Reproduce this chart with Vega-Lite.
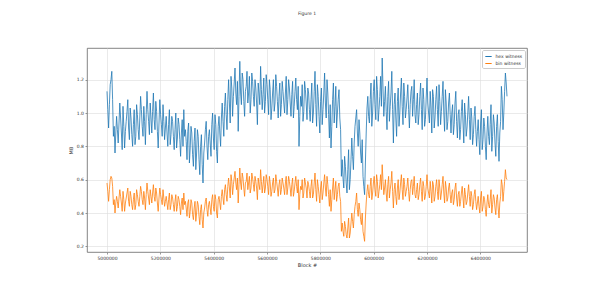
{
  "$schema": "https://vega.github.io/schema/vega-lite/v6.json",
  "width": 440,
  "height": 204,
  "autosize": {"type": "none"},
  "padding": {"left": 87, "top": 48, "right": 73, "bottom": 30},
  "background": "white",
  "title": {"text": "Figure 1", "fontSize": 4.5, "font": "DejaVu Sans", "color": "#333", "fontWeight": "normal", "offset": 33, "anchor": "middle"},
  "data": {"values": [
    {"b":5000000,"h":1.13,"n":0.58},{"b":5006000,"h":0.91,"n":0.47},{"b":5012000,"h":1.17,"n":0.60},{"b":5018000,"h":1.25,"n":0.61},{"b":5024000,"h":0.86,"n":0.45},{"b":5030000,"h":0.76,"n":0.40},{"b":5036000,"h":0.98,"n":0.50},{"b":5042000,"h":0.82,"n":0.43},{"b":5048000,"h":1.06,"n":0.54},{"b":5054000,"h":0.88,"n":0.46},
    {"b":5060000,"h":1.04,"n":0.53},{"b":5066000,"h":0.79,"n":0.41},{"b":5072000,"h":0.95,"n":0.49},{"b":5078000,"h":1.08,"n":0.55},{"b":5084000,"h":0.84,"n":0.44},{"b":5090000,"h":0.97,"n":0.50},{"b":5096000,"h":0.80,"n":0.42},{"b":5102000,"h":1.02,"n":0.52},{"b":5108000,"h":0.86,"n":0.45},{"b":5114000,"h":0.99,"n":0.51},
    {"b":5120000,"h":0.84,"n":0.44},{"b":5126000,"h":1.10,"n":0.56},{"b":5132000,"h":0.92,"n":0.48},{"b":5138000,"h":1.04,"n":0.53},{"b":5144000,"h":0.81,"n":0.42},{"b":5150000,"h":1.13,"n":0.58},{"b":5156000,"h":0.95,"n":0.49},{"b":5162000,"h":1.06,"n":0.54},{"b":5168000,"h":0.88,"n":0.46},{"b":5174000,"h":1.12,"n":0.57},
    {"b":5180000,"h":0.90,"n":0.47},{"b":5186000,"h":1.01,"n":0.52},{"b":5192000,"h":0.79,"n":0.41},{"b":5198000,"h":1.08,"n":0.55},{"b":5204000,"h":0.93,"n":0.48},{"b":5210000,"h":1.05,"n":0.54},{"b":5216000,"h":0.84,"n":0.44},{"b":5222000,"h":0.98,"n":0.50},{"b":5228000,"h":0.80,"n":0.42},{"b":5234000,"h":1.02,"n":0.52},
    {"b":5240000,"h":0.87,"n":0.45},{"b":5246000,"h":0.95,"n":0.49},{"b":5252000,"h":0.78,"n":0.41},{"b":5258000,"h":1.00,"n":0.51},{"b":5264000,"h":0.85,"n":0.44},{"b":5270000,"h":0.93,"n":0.48},{"b":5276000,"h":0.74,"n":0.39},{"b":5282000,"h":0.96,"n":0.49},{"b":5288000,"h":1.02,"n":0.52},{"b":5294000,"h":0.90,"n":0.47},
    {"b":5300000,"h":0.72,"n":0.38},{"b":5306000,"h":0.94,"n":0.48},{"b":5312000,"h":0.79,"n":0.41},{"b":5318000,"h":0.88,"n":0.46},{"b":5324000,"h":0.68,"n":0.36},{"b":5330000,"h":0.91,"n":0.47},{"b":5336000,"h":0.76,"n":0.40},{"b":5342000,"h":0.86,"n":0.45},{"b":5348000,"h":0.63,"n":0.33},{"b":5354000,"h":0.87,"n":0.45},
    {"b":5360000,"h":0.58,"n":0.31},{"b":5366000,"h":0.82,"n":0.43},{"b":5372000,"h":0.95,"n":0.49},{"b":5378000,"h":0.72,"n":0.38},{"b":5384000,"h":0.90,"n":0.47},{"b":5390000,"h":0.74,"n":0.39},{"b":5396000,"h":1.00,"n":0.51},{"b":5402000,"h":0.78,"n":0.41},{"b":5408000,"h":0.93,"n":0.48},{"b":5414000,"h":0.70,"n":0.37},
    {"b":5420000,"h":0.98,"n":0.50},{"b":5426000,"h":0.80,"n":0.42},{"b":5432000,"h":1.06,"n":0.54},{"b":5438000,"h":0.86,"n":0.45},{"b":5444000,"h":1.12,"n":0.57},{"b":5450000,"h":0.90,"n":0.47},{"b":5456000,"h":1.20,"n":0.61},{"b":5462000,"h":0.94,"n":0.49},{"b":5468000,"h":1.15,"n":0.59},{"b":5474000,"h":1.10,"n":0.57},
    {"b":5480000,"h":1.27,"n":0.65},{"b":5486000,"h":1.05,"n":0.54},{"b":5492000,"h":0.89,"n":0.46},{"b":5498000,"h":1.31,"n":0.67},{"b":5504000,"h":1.05,"n":0.54},{"b":5510000,"h":1.20,"n":0.61},{"b":5516000,"h":0.98,"n":0.50},{"b":5522000,"h":1.16,"n":0.59},{"b":5528000,"h":1.06,"n":0.54},{"b":5534000,"h":1.22,"n":0.62},
    {"b":5540000,"h":1.08,"n":0.55},{"b":5546000,"h":1.19,"n":0.61},{"b":5552000,"h":1.04,"n":0.53},{"b":5558000,"h":1.15,"n":0.59},{"b":5564000,"h":0.93,"n":0.48},{"b":5570000,"h":1.12,"n":0.57},{"b":5576000,"h":1.28,"n":0.66},{"b":5582000,"h":1.02,"n":0.52},{"b":5588000,"h":1.21,"n":0.62},{"b":5594000,"h":1.07,"n":0.55},
    {"b":5600000,"h":1.17,"n":0.60},{"b":5606000,"h":0.99,"n":0.51},{"b":5612000,"h":1.14,"n":0.58},{"b":5618000,"h":1.03,"n":0.53},{"b":5624000,"h":1.20,"n":0.61},{"b":5630000,"h":1.06,"n":0.54},{"b":5636000,"h":1.16,"n":0.59},{"b":5642000,"h":0.97,"n":0.50},{"b":5648000,"h":1.18,"n":0.60},{"b":5654000,"h":1.05,"n":0.54},
    {"b":5660000,"h":1.13,"n":0.58},{"b":5666000,"h":1.00,"n":0.51},{"b":5672000,"h":1.22,"n":0.62},{"b":5678000,"h":1.08,"n":0.55},{"b":5684000,"h":1.15,"n":0.59},{"b":5690000,"h":0.98,"n":0.50},{"b":5696000,"h":1.19,"n":0.61},{"b":5702000,"h":1.04,"n":0.53},{"b":5708000,"h":1.21,"n":0.62},{"b":5714000,"h":1.02,"n":0.52},
    {"b":5720000,"h":0.80,"n":0.42},{"b":5726000,"h":1.10,"n":0.56},{"b":5732000,"h":1.17,"n":0.60},{"b":5738000,"h":1.01,"n":0.52},{"b":5744000,"h":1.14,"n":0.58},{"b":5750000,"h":0.96,"n":0.49},{"b":5756000,"h":1.12,"n":0.57},{"b":5762000,"h":0.95,"n":0.49},{"b":5768000,"h":1.18,"n":0.60},{"b":5774000,"h":1.00,"n":0.51},
    {"b":5780000,"h":1.25,"n":0.64},{"b":5786000,"h":0.92,"n":0.47},{"b":5792000,"h":1.10,"n":0.56},{"b":5798000,"h":0.88,"n":0.46},{"b":5804000,"h":1.15,"n":0.59},{"b":5810000,"h":1.02,"n":0.52},{"b":5816000,"h":1.24,"n":0.63},{"b":5822000,"h":0.97,"n":0.50},{"b":5828000,"h":1.12,"n":0.57},{"b":5834000,"h":0.85,"n":0.44},
    {"b":5840000,"h":0.79,"n":0.41},{"b":5846000,"h":1.08,"n":0.55},{"b":5852000,"h":0.94,"n":0.48},{"b":5858000,"h":1.16,"n":0.59},{"b":5864000,"h":1.00,"n":0.51},{"b":5870000,"h":1.14,"n":0.58},{"b":5876000,"h":0.90,"n":0.47},{"b":5882000,"h":0.72,"n":0.34},{"b":5888000,"h":0.55,"n":0.26},{"b":5894000,"h":0.68,"n":0.32},
    {"b":5900000,"h":0.52,"n":0.25},{"b":5906000,"h":0.78,"n":0.37},{"b":5912000,"h":0.60,"n":0.28},{"b":5918000,"h":0.85,"n":0.40},{"b":5924000,"h":0.66,"n":0.31},{"b":5930000,"h":0.92,"n":0.44},{"b":5936000,"h":1.02,"n":0.52},{"b":5942000,"h":0.80,"n":0.38},{"b":5948000,"h":0.88,"n":0.42},{"b":5954000,"h":0.70,"n":0.33},
    {"b":5960000,"h":0.62,"n":0.29},{"b":5966000,"h":0.51,"n":0.23},{"b":5972000,"h":0.88,"n":0.46},{"b":5978000,"h":1.10,"n":0.57},{"b":5984000,"h":0.94,"n":0.49},{"b":5990000,"h":1.18,"n":0.61},{"b":5996000,"h":1.00,"n":0.52},{"b":6002000,"h":1.20,"n":0.62},{"b":6008000,"h":0.96,"n":0.50},{"b":6014000,"h":1.14,"n":0.59},
    {"b":6020000,"h":1.02,"n":0.53},{"b":6026000,"h":1.22,"n":0.63},{"b":6032000,"h":1.33,"n":0.69},{"b":6038000,"h":0.98,"n":0.51},{"b":6044000,"h":1.16,"n":0.60},{"b":6050000,"h":0.90,"n":0.47},{"b":6056000,"h":1.19,"n":0.62},{"b":6062000,"h":1.04,"n":0.54},{"b":6068000,"h":1.25,"n":0.65},{"b":6074000,"h":0.82,"n":0.43},
    {"b":6080000,"h":1.12,"n":0.58},{"b":6086000,"h":0.86,"n":0.45},{"b":6092000,"h":1.15,"n":0.60},{"b":6098000,"h":1.00,"n":0.52},{"b":6104000,"h":1.21,"n":0.63},{"b":6110000,"h":0.93,"n":0.48},{"b":6116000,"h":1.10,"n":0.57},{"b":6122000,"h":1.02,"n":0.53},{"b":6128000,"h":1.17,"n":0.61},{"b":6134000,"h":0.91,"n":0.47},
    {"b":6140000,"h":1.13,"n":0.59},{"b":6146000,"h":0.98,"n":0.51},{"b":6152000,"h":1.20,"n":0.62},{"b":6158000,"h":0.94,"n":0.49},{"b":6164000,"h":1.12,"n":0.58},{"b":6170000,"h":0.99,"n":0.51},{"b":6176000,"h":1.18,"n":0.61},{"b":6182000,"h":0.90,"n":0.47},{"b":6188000,"h":1.08,"n":0.56},{"b":6194000,"h":0.96,"n":0.50},
    {"b":6200000,"h":1.21,"n":0.63},{"b":6206000,"h":1.00,"n":0.52},{"b":6212000,"h":1.13,"n":0.59},{"b":6218000,"h":0.88,"n":0.46},{"b":6224000,"h":1.10,"n":0.57},{"b":6230000,"h":0.97,"n":0.50},{"b":6236000,"h":1.16,"n":0.60},{"b":6242000,"h":0.92,"n":0.48},{"b":6248000,"h":1.07,"n":0.55},{"b":6254000,"h":1.01,"n":0.52},
    {"b":6260000,"h":1.19,"n":0.62},{"b":6266000,"h":0.89,"n":0.46},{"b":6272000,"h":1.06,"n":0.55},{"b":6278000,"h":0.95,"n":0.49},{"b":6284000,"h":1.12,"n":0.58},{"b":6290000,"h":0.88,"n":0.46},{"b":6296000,"h":1.05,"n":0.54},{"b":6302000,"h":0.93,"n":0.48},{"b":6308000,"h":1.13,"n":0.58},{"b":6314000,"h":0.85,"n":0.44},
    {"b":6320000,"h":1.02,"n":0.53},{"b":6326000,"h":0.90,"n":0.47},{"b":6332000,"h":1.08,"n":0.56},{"b":6338000,"h":0.82,"n":0.43},{"b":6344000,"h":0.99,"n":0.51},{"b":6350000,"h":0.91,"n":0.47},{"b":6356000,"h":1.10,"n":0.57},{"b":6362000,"h":0.84,"n":0.44},{"b":6368000,"h":0.97,"n":0.50},{"b":6374000,"h":0.87,"n":0.45},
    {"b":6380000,"h":1.04,"n":0.54},{"b":6386000,"h":0.80,"n":0.42},{"b":6392000,"h":0.96,"n":0.50},{"b":6398000,"h":0.75,"n":0.40},{"b":6404000,"h":1.02,"n":0.53},{"b":6410000,"h":0.84,"n":0.44},{"b":6416000,"h":0.92,"n":0.48},{"b":6422000,"h":0.72,"n":0.38},{"b":6428000,"h":0.98,"n":0.51},{"b":6434000,"h":0.81,"n":0.43},
    {"b":6440000,"h":1.05,"n":0.54},{"b":6446000,"h":0.86,"n":0.45},{"b":6452000,"h":0.94,"n":0.49},{"b":6458000,"h":0.74,"n":0.39},{"b":6464000,"h":0.99,"n":0.51},{"b":6470000,"h":0.71,"n":0.37},{"b":6476000,"h":0.95,"n":0.50},{"b":6482000,"h":1.08,"n":0.57},{"b":6488000,"h":1.00,"n":0.53},{"b":6494000,"h":1.24,"n":0.66},
    {"b":6500000,"h":1.10,"n":0.60},
    {"b":5003000,"h":1.02,"n":0.53},{"b":5009000,"h":1.05,"n":0.54},{"b":5015000,"h":1.20,"n":0.62},{"b":5021000,"h":1.08,"n":0.56},{"b":5027000,"h":0.92,"n":0.48},{"b":5033000,"h":0.88,"n":0.46},{"b":5039000,"h":0.90,"n":0.47},{"b":5045000,"h":0.94,"n":0.49},{"b":5051000,"h":0.97,"n":0.50},{"b":5057000,"h":0.78,"n":0.41},
    {"b":5063000,"h":0.92,"n":0.48},{"b":5069000,"h":0.89,"n":0.46},{"b":5075000,"h":1.01,"n":0.52},{"b":5081000,"h":0.91,"n":0.47},{"b":5087000,"h":1.03,"n":0.53},{"b":5093000,"h":0.87,"n":0.45},{"b":5099000,"h":0.93,"n":0.48},{"b":5105000,"h":0.81,"n":0.42},{"b":5111000,"h":1.05,"n":0.54},{"b":5117000,"h":0.90,"n":0.47},
    {"b":5123000,"h":0.97,"n":0.50},{"b":5129000,"h":1.02,"n":0.53},{"b":5135000,"h":0.86,"n":0.45},{"b":5141000,"h":0.95,"n":0.49},{"b":5147000,"h":0.99,"n":0.51},{"b":5153000,"h":1.02,"n":0.53},{"b":5159000,"h":0.87,"n":0.45},{"b":5165000,"h":0.97,"n":0.50},{"b":5171000,"h":1.01,"n":0.52},{"b":5177000,"h":0.96,"n":0.50},
    {"b":5183000,"h":1.07,"n":0.55},{"b":5189000,"h":0.89,"n":0.46},{"b":5195000,"h":0.94,"n":0.49},{"b":5201000,"h":0.99,"n":0.51},{"b":5207000,"h":0.86,"n":0.45},{"b":5213000,"h":0.95,"n":0.49},{"b":5219000,"h":0.91,"n":0.47},{"b":5225000,"h":0.88,"n":0.46},{"b":5231000,"h":0.93,"n":0.48},{"b":5237000,"h":0.81,"n":0.42},
    {"b":5243000,"h":0.98,"n":0.51},{"b":5249000,"h":0.86,"n":0.45},{"b":5255000,"h":0.90,"n":0.47},{"b":5261000,"h":0.79,"n":0.41},{"b":5267000,"h":0.97,"n":0.50},{"b":5273000,"h":0.84,"n":0.44},{"b":5279000,"h":0.88,"n":0.46},{"b":5285000,"h":0.80,"n":0.42},{"b":5291000,"h":0.86,"n":0.45},{"b":5297000,"h":0.83,"n":0.43},
    {"b":5303000,"h":0.89,"n":0.46},{"b":5309000,"h":0.70,"n":0.37},{"b":5315000,"h":0.92,"n":0.48},{"b":5321000,"h":0.75,"n":0.39},{"b":5327000,"h":0.83,"n":0.43},{"b":5333000,"h":0.66,"n":0.35},{"b":5339000,"h":0.90,"n":0.47},{"b":5345000,"h":0.72,"n":0.38},{"b":5351000,"h":0.80,"n":0.42},{"b":5357000,"h":0.69,"n":0.36},
    {"b":5363000,"h":0.76,"n":0.40},{"b":5369000,"h":0.90,"n":0.47},{"b":5375000,"h":0.80,"n":0.42},{"b":5381000,"h":0.86,"n":0.45},{"b":5387000,"h":0.82,"n":0.43},{"b":5393000,"h":0.93,"n":0.48},{"b":5399000,"h":0.85,"n":0.44},{"b":5405000,"h":0.99,"n":0.51},{"b":5411000,"h":0.77,"n":0.40},{"b":5417000,"h":0.92,"n":0.48},
    {"b":5423000,"h":0.88,"n":0.46},{"b":5429000,"h":0.97,"n":0.50},{"b":5435000,"h":0.95,"n":0.49},{"b":5441000,"h":1.04,"n":0.54},{"b":5447000,"h":0.99,"n":0.51},{"b":5453000,"h":1.08,"n":0.56},{"b":5459000,"h":1.06,"n":0.55},{"b":5465000,"h":1.22,"n":0.63},{"b":5471000,"h":0.98,"n":0.51},{"b":5477000,"h":1.18,"n":0.61},
    {"b":5483000,"h":1.12,"n":0.58},{"b":5489000,"h":1.19,"n":0.61},{"b":5495000,"h":1.10,"n":0.57},{"b":5501000,"h":1.12,"n":0.58},{"b":5507000,"h":1.24,"n":0.64},{"b":5513000,"h":1.07,"n":0.55},{"b":5519000,"h":1.13,"n":0.58},{"b":5525000,"h":1.25,"n":0.64},{"b":5531000,"h":1.12,"n":0.58},{"b":5537000,"h":1.00,"n":0.52},
    {"b":5543000,"h":1.24,"n":0.64},{"b":5549000,"h":1.10,"n":0.57},{"b":5555000,"h":1.20,"n":0.62},{"b":5561000,"h":1.06,"n":0.55},{"b":5567000,"h":1.18,"n":0.61},{"b":5573000,"h":1.05,"n":0.54},{"b":5579000,"h":1.14,"n":0.59},{"b":5585000,"h":1.11,"n":0.57},{"b":5591000,"h":1.00,"n":0.52},{"b":5597000,"h":1.23,"n":0.63},
    {"b":5603000,"h":1.08,"n":0.56},{"b":5609000,"h":1.20,"n":0.62},{"b":5615000,"h":0.96,"n":0.50},{"b":5621000,"h":1.12,"n":0.58},{"b":5627000,"h":1.01,"n":0.52},{"b":5633000,"h":1.23,"n":0.63},{"b":5639000,"h":1.07,"n":0.55},{"b":5645000,"h":1.10,"n":0.57},{"b":5651000,"h":0.98,"n":0.51},{"b":5657000,"h":1.19,"n":0.61},
    {"b":5663000,"h":1.06,"n":0.55},{"b":5669000,"h":1.12,"n":0.58},{"b":5675000,"h":0.99,"n":0.51},{"b":5681000,"h":1.20,"n":0.62},{"b":5687000,"h":1.06,"n":0.55},{"b":5693000,"h":1.11,"n":0.57},{"b":5699000,"h":0.97,"n":0.50},{"b":5705000,"h":1.13,"n":0.58},{"b":5711000,"h":1.08,"n":0.56},{"b":5717000,"h":1.16,"n":0.60},
    {"b":5723000,"h":0.98,"n":0.51},{"b":5729000,"h":1.04,"n":0.54},{"b":5735000,"h":0.95,"n":0.49},{"b":5741000,"h":1.19,"n":0.61},{"b":5747000,"h":1.06,"n":0.55},{"b":5753000,"h":1.15,"n":0.59},{"b":5759000,"h":1.02,"n":0.53},{"b":5765000,"h":1.08,"n":0.56},{"b":5771000,"h":0.94,"n":0.49},{"b":5777000,"h":1.13,"n":0.58},
    {"b":5783000,"h":1.05,"n":0.54},{"b":5789000,"h":1.17,"n":0.60},{"b":5795000,"h":0.98,"n":0.51},{"b":5801000,"h":1.07,"n":0.55},{"b":5807000,"h":0.93,"n":0.48},{"b":5813000,"h":1.12,"n":0.58},{"b":5819000,"h":1.06,"n":0.55},{"b":5825000,"h":1.20,"n":0.62},{"b":5831000,"h":0.99,"n":0.51},{"b":5837000,"h":1.05,"n":0.54},
    {"b":5843000,"h":0.92,"n":0.48},{"b":5849000,"h":1.18,"n":0.61},{"b":5855000,"h":1.04,"n":0.54},{"b":5861000,"h":0.91,"n":0.47},{"b":5867000,"h":1.08,"n":0.56},{"b":5873000,"h":0.97,"n":0.50},{"b":5879000,"h":0.62,"n":0.29},{"b":5885000,"h":0.61,"n":0.29},{"b":5891000,"h":0.74,"n":0.35},{"b":5897000,"h":0.58,"n":0.27},
    {"b":5903000,"h":0.66,"n":0.31},{"b":5909000,"h":0.54,"n":0.25},{"b":5915000,"h":0.72,"n":0.34},{"b":5921000,"h":0.74,"n":0.35},{"b":5927000,"h":0.82,"n":0.39},{"b":5933000,"h":0.97,"n":0.47},{"b":5939000,"h":0.88,"n":0.42},{"b":5945000,"h":0.96,"n":0.46},{"b":5951000,"h":0.76,"n":0.36},{"b":5957000,"h":0.84,"n":0.40},
    {"b":5963000,"h":0.56,"n":0.26},{"b":5969000,"h":0.70,"n":0.37},{"b":5975000,"h":1.03,"n":0.53},{"b":5981000,"h":0.98,"n":0.51},{"b":5987000,"h":1.08,"n":0.56},{"b":5993000,"h":0.92,"n":0.48},{"b":5999000,"h":1.13,"n":0.58},{"b":6005000,"h":1.05,"n":0.54},{"b":6011000,"h":1.22,"n":0.63},{"b":6017000,"h":0.95,"n":0.49},
    {"b":6023000,"h":1.10,"n":0.57},{"b":6029000,"h":1.04,"n":0.54},{"b":6035000,"h":1.15,"n":0.59},{"b":6041000,"h":1.07,"n":0.55},{"b":6047000,"h":1.01,"n":0.52},{"b":6053000,"h":1.10,"n":0.57},{"b":6059000,"h":0.95,"n":0.49},{"b":6065000,"h":1.12,"n":0.58},{"b":6071000,"h":1.02,"n":0.53},{"b":6077000,"h":1.05,"n":0.54},
    {"b":6083000,"h":0.97,"n":0.50},{"b":6089000,"h":1.07,"n":0.55},{"b":6095000,"h":0.92,"n":0.48},{"b":6101000,"h":1.12,"n":0.58},{"b":6107000,"h":1.04,"n":0.54},{"b":6113000,"h":1.18,"n":0.61},{"b":6119000,"h":0.97,"n":0.50},{"b":6125000,"h":1.09,"n":0.56},{"b":6131000,"h":1.02,"n":0.53},{"b":6137000,"h":1.05,"n":0.54},
    {"b":6143000,"h":1.16,"n":0.60},{"b":6149000,"h":1.08,"n":0.56},{"b":6155000,"h":0.99,"n":0.51},{"b":6161000,"h":1.05,"n":0.54},{"b":6167000,"h":0.93,"n":0.48},{"b":6173000,"h":1.10,"n":0.57},{"b":6179000,"h":1.02,"n":0.53},{"b":6185000,"h":1.15,"n":0.59},{"b":6191000,"h":0.92,"n":0.48},{"b":6197000,"h":1.09,"n":0.56},
    {"b":6203000,"h":1.06,"n":0.55},{"b":6209000,"h":0.94,"n":0.49},{"b":6215000,"h":1.03,"n":0.53},{"b":6221000,"h":1.14,"n":0.59},{"b":6227000,"h":0.91,"n":0.47},{"b":6233000,"h":1.08,"n":0.56},{"b":6239000,"h":1.02,"n":0.53},{"b":6245000,"h":1.17,"n":0.60},{"b":6251000,"h":0.93,"n":0.48},{"b":6257000,"h":1.10,"n":0.57},
    {"b":6263000,"h":1.00,"n":0.52},{"b":6269000,"h":1.14,"n":0.59},{"b":6275000,"h":0.90,"n":0.47},{"b":6281000,"h":1.06,"n":0.55},{"b":6287000,"h":0.99,"n":0.51},{"b":6293000,"h":1.00,"n":0.52},{"b":6299000,"h":0.87,"n":0.45},{"b":6305000,"h":1.06,"n":0.55},{"b":6311000,"h":0.95,"n":0.49},{"b":6317000,"h":0.99,"n":0.51},
    {"b":6323000,"h":0.84,"n":0.44},{"b":6329000,"h":1.01,"n":0.52},{"b":6335000,"h":0.94,"n":0.49},{"b":6341000,"h":1.06,"n":0.55},{"b":6347000,"h":0.86,"n":0.45},{"b":6353000,"h":1.00,"n":0.52},{"b":6359000,"h":0.96,"n":0.50},{"b":6365000,"h":1.03,"n":0.53},{"b":6371000,"h":0.81,"n":0.42},{"b":6377000,"h":0.98,"n":0.51},
    {"b":6383000,"h":0.90,"n":0.47},{"b":6389000,"h":0.89,"n":0.46},{"b":6395000,"h":0.84,"n":0.44},{"b":6401000,"h":0.94,"n":0.49},{"b":6407000,"h":0.78,"n":0.41},{"b":6413000,"h":0.97,"n":0.50},{"b":6419000,"h":0.80,"n":0.42},{"b":6425000,"h":0.88,"n":0.46},{"b":6431000,"h":0.86,"n":0.45},{"b":6437000,"h":0.93,"n":0.48},
    {"b":6443000,"h":0.77,"n":0.40},{"b":6449000,"h":0.99,"n":0.51},{"b":6455000,"h":0.82,"n":0.43},{"b":6461000,"h":0.92,"n":0.48},{"b":6467000,"h":0.83,"n":0.43},{"b":6473000,"h":0.88,"n":0.46},{"b":6479000,"h":1.16,"n":0.60},{"b":6485000,"h":0.90,"n":0.47},{"b":6491000,"h":1.13,"n":0.59},{"b":6497000,"h":1.18,"n":0.61}
  ]},
  "encoding": {
    "x": {
      "field": "b", "type": "quantitative",
      "scale": {"domain": [4925000, 6575000], "nice": false, "zero": false},
      "axis": {"values": [5000000, 5200000, 5400000, 5600000, 5800000, 6000000, 6200000, 6400000], "format": "d", "title": "Block #"}
    }
  },
  "layer": [
    {
      "mark": {"type": "line", "strokeWidth": 0.8},
      "encoding": {
        "y": {"field": "h", "type": "quantitative", "scale": {"domain": [0.166, 1.39], "nice": false, "zero": false},
              "axis": {"values": [0.2, 0.4, 0.6, 0.8, 1.0, 1.2], "format": ".1f", "title": "MB"}},
        "color": {"datum": "hex witness", "type": "nominal",
                  "scale": {"domain": ["hex witness", "bin witness"], "range": ["#1f77b4", "#ff7f0e"]},
                  "legend": {"title": null, "orient": "top-right", "offset": 2}}
      }
    },
    {
      "mark": {"type": "line", "strokeWidth": 0.8},
      "encoding": {
        "y": {"field": "n", "type": "quantitative"},
        "color": {"datum": "bin witness", "type": "nominal"}
      }
    }
  ],
  "config": {
    "font": "DejaVu Sans",
    "view": {"stroke": "#666", "strokeWidth": 0.8},
    "axis": {
      "domain": false,
      "labelFontSize": 4.5, "titleFontSize": 5, "titleFontWeight": "normal",
      "labelColor": "#333", "titleColor": "#333",
      "tickColor": "#555", "tickSize": 2, "tickWidth": 0.6, "labelPadding": 1.5,
      "gridColor": "#dcdcdc", "gridWidth": 0.6, "titlePadding": 2
    },
    "axisY": {"titlePadding": 3},
    "legend": {
      "labelFontSize": 4.5, "labelColor": "#333", "symbolType": "stroke", "symbolStrokeWidth": 1,
      "symbolSize": 40, "padding": 2.5, "rowPadding": 1, "strokeColor": "#ccc", "fillColor": "white",
      "cornerRadius": 1.5, "labelOffset": 3
    }
  }
}
